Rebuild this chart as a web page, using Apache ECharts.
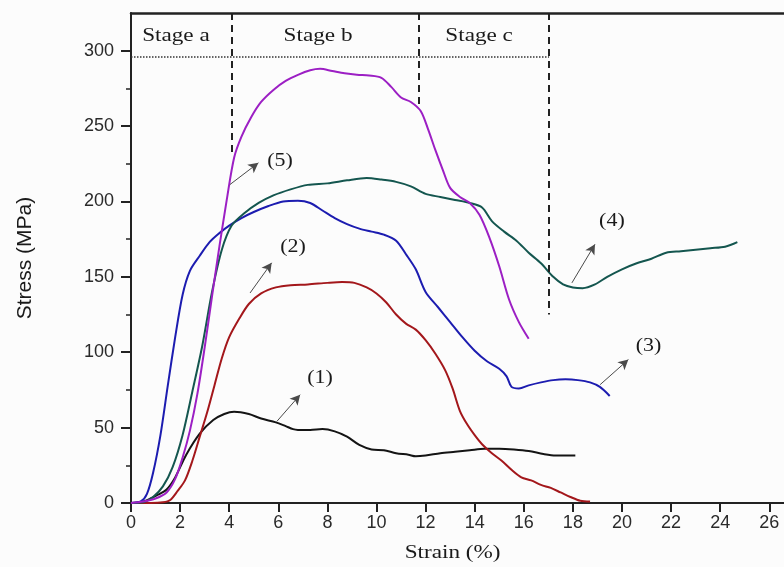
<!DOCTYPE html>
<html>
<head>
<meta charset="utf-8">
<script src="https://cdn.jsdelivr.net/npm/echarts@6/dist/echarts.min.js"></script>
<style>
  html, body { margin: 0; padding: 0; background: #fcfcfc; }
  #chart { width: 784px; height: 567px; }
</style>
</head>
<body>
<div id="chart"></div>
<script>
// Stress–strain curves of five specimens
const strain1 = [0, 0.5, 0.8, 1.1, 1.45, 1.8, 2.25, 2.8, 3.35, 3.8, 4.2, 4.8, 5.3, 5.9, 6.3, 6.6, 6.8, 7.3, 7.8, 8.3, 8.8, 9.3, 9.8, 10.3, 10.8, 11.3, 11.6, 12.0, 12.6, 13.2, 13.8, 14.4, 15.0, 15.6, 16.2, 16.8, 17.3, 17.8, 18.1];
const stress1 = [0, 1, 3, 5.5, 9, 17, 32, 46, 55, 59, 60.5, 59, 56, 53.5, 51, 49, 48.5, 48.5, 49, 47.5, 44, 38.5, 35.5, 35, 33, 32, 31, 31.5, 33, 34, 35, 36, 36, 35.5, 34.5, 32.5, 31.5, 31.5, 31.5];

const strain2 = [0, 0.8, 1.3, 1.6, 1.9, 2.2, 2.5, 2.8, 3.1, 3.4, 3.7, 4.0, 4.4, 4.8, 5.3, 5.9, 6.5, 7.2, 8.0, 8.6, 9.1, 9.6, 10.0, 10.4, 10.8, 11.2, 11.6, 12.0, 12.4, 12.8, 13.1, 13.4, 13.7, 14.0, 14.3, 14.7, 15.1, 15.5, 15.9, 16.3, 16.7, 17.1, 17.5, 17.9, 18.3, 18.7];
const stress2 = [0, 0, 0.5, 2, 8, 15, 28, 44, 60, 78, 96, 110, 122, 132, 139, 143, 144.5, 145, 146, 146.5, 146, 143, 139, 133, 125, 119, 115, 108, 99, 88, 76, 61, 52, 45, 39, 33, 28, 22, 17, 15, 12, 10, 7, 4, 1.5, 1];

const strain3 = [0, 0.4, 0.65, 0.9, 1.2, 1.5, 1.8, 2.1, 2.4, 2.8, 3.2, 3.6, 4.0, 4.5, 5.0, 5.6, 6.2, 6.8, 7.3, 7.8, 8.3, 8.8, 9.3, 9.8, 10.3, 10.8, 11.2, 11.6, 12.0, 12.5, 13.0, 13.5, 14.0, 14.5, 15.0, 15.3, 15.5, 15.8, 16.2, 16.7, 17.2, 17.7, 18.2, 18.7, 19.1, 19.5];
const stress3 = [0, 1, 6, 20, 45, 78, 110, 138, 154, 164, 173, 179, 184, 189, 193, 197, 200, 200.5, 199, 194, 189, 185, 182, 180, 178, 174, 165, 155, 140, 130, 120, 110, 101, 94, 89, 84, 77, 76, 78, 80, 81.5, 82, 81.5, 80, 77, 71];

const strain4 = [0, 0.5, 0.9, 1.3, 1.7, 2.1, 2.5, 2.9, 3.3, 3.7, 4.1, 4.6, 5.2, 5.8, 6.5, 7.2, 8.0, 8.8, 9.6, 10.2, 10.8, 11.4, 12.0, 12.6, 13.2, 13.8, 14.3, 14.7, 15.2, 15.7, 16.2, 16.7, 17.2, 17.6, 18.0, 18.4, 18.9, 19.4, 20.0, 20.6, 21.2, 21.8, 22.4, 23.0, 23.6, 24.2, 24.7];
const stress4 = [0, 0.5, 4, 11, 24, 45, 74, 104, 140, 168, 184, 192, 199, 204, 208, 211, 212, 214, 215.5, 214.5, 213, 210, 205, 203, 201, 199, 196, 187, 180, 174, 166, 159, 150, 145, 143, 142.5, 145, 150, 155, 159, 162, 166, 167, 168, 169, 170, 173];

const strain5 = [0, 0.5, 1.0, 1.45, 1.8, 2.1, 2.4, 2.7, 3.0, 3.3, 3.6, 3.9, 4.2, 4.5, 4.9, 5.3, 5.8, 6.3, 6.8, 7.3, 7.7, 8.2, 8.7, 9.2, 9.7, 10.2, 10.6, 11.0, 11.4, 11.8, 12.1, 12.4, 12.7, 13.0, 13.4, 13.8, 14.2, 14.6, 15.0, 15.4, 15.8, 16.2];
const stress5 = [0, 1, 3, 7, 16, 30, 48, 72, 103, 137, 170, 201, 229, 243, 256, 266, 274, 280, 284, 287, 288, 286.5, 285, 284, 283.5, 282, 276, 269, 266, 260, 248, 234, 221, 209, 203, 199, 191, 176, 157, 135, 120, 109];

// Axis ticks
const xTicks = [0, 2, 4, 6, 8, 10, 12, 14, 16, 18, 20, 22, 24, 26];
const yTicks = [0, 50, 100, 150, 200, 250, 300];
const yMinorTicks = [25, 75, 125, 175, 225, 275];

// Stage boundaries (strain, lower stress end) and the stage ceiling
const stageBounds = [4.12, 11.74, 17.03];
const stageBoundEnds = [229.7, 263, 125];
const stageCeiling = 296;
const stageNames = ['Stage a', 'Stage b', 'Stage c'];
const stageLabelX = [1.83, 7.62, 14.18];
const stageLabelY = 309.5;

// Curve tags "(n)" with leader arrows [start, end]
const tagNames = ['(1)', '(2)', '(3)', '(4)', '(5)'];
const tagAt = [[7.7, 83], [6.6, 169.4], [21.08, 104], [19.59, 187], [6.07, 226.5]];
const arrowFrom = [[5.94, 54.1], [4.85, 139.3], [19.11, 78.5], [17.96, 146], [4.03, 211.2]];
const arrowTo = [[6.89, 71.8], [5.73, 159.3], [20.26, 95.1], [18.9, 171.6], [5.19, 225.6]];

const colors = ['#141414', '#a3171b', '#1c1cb0', '#14564f', '#9c1fc4'];
const strains = [strain1, strain2, strain3, strain4, strain5];
const stresses = [stress1, stress2, stress3, stress4, stress5];

const serif = '"Liberation Serif", serif';
const sans = '"Liberation Sans", sans-serif';
const ink = '#1a1a1a';

const curveSeries = strains.map((s, i) => ({
  type: 'line',
  name: tagNames[i],
  data: s.map((x, k) => [x, stresses[i][k]]),
  showSymbol: false,
  smooth: 0.3,
  lineStyle: { color: colors[i], width: 2 },
  z: 3,
  silent: true
}));

const guideSeries = {
  type: 'line',
  data: [],
  silent: true,
  markLine: {
    silent: true,
    symbol: ['none', 'none'],
    label: { show: false },
    animation: false,
    data: [
      ...stageBounds.map((x, i) => [
        { coord: [x, 325], lineStyle: { type: [7, 5], width: 2, color: '#222' } },
        { coord: [x, stageBoundEnds[i]] }
      ]),
      [
        { coord: [0, stageCeiling], lineStyle: { type: [1.5, 1.5], width: 1.5, color: '#333' } },
        { coord: [stageBounds[2], stageCeiling] }
      ]
    ]
  }
};

const arrowSeries = {
  type: 'line',
  data: [],
  silent: true,
  markLine: {
    silent: true,
    symbol: ['none', 'arrow'],
    symbolSize: [8, 10],
    label: { show: false },
    animation: false,
    lineStyle: { type: 'solid', color: '#4a4a4a', width: 1 },
    data: arrowFrom.map((p, i) => [{ coord: p }, { coord: arrowTo[i] }])
  }
};

const chart = echarts.init(document.getElementById('chart'), null, { renderer: 'canvas' });
chart.setOption({
  backgroundColor: '#fcfcfc',
  animation: false,
  grid: { left: 131, right: 0, top: 13, bottom: 64, containLabel: false },
  xAxis: [
    {
      type: 'value', min: 0, max: 26.6, position: 'bottom',
      axisLine: { onZero: false, lineStyle: { color: '#222', width: 2 } },
      axisTick: { customValues: xTicks, length: 9, lineStyle: { color: '#222', width: 2 } },
      axisLabel: { customValues: xTicks, fontFamily: sans, fontSize: 18, color: '#2a2a2a', margin: 11 },
      splitLine: { show: false }
    },
    {
      type: 'value', min: 0, max: 26.6, position: 'top',
      axisLine: { show: true, onZero: false, lineStyle: { color: '#222', width: 2.5 } },
      axisTick: { show: false }, axisLabel: { show: false }, splitLine: { show: false }
    }
  ],
  yAxis: [
    {
      type: 'value', min: 0, max: 325, position: 'left',
      name: 'Stress (MPa)', nameLocation: 'middle', nameGap: 95, nameRotate: 90,
      nameTextStyle: { fontFamily: sans, fontSize: 21, color: ink },
      axisLine: { show: true, onZero: false, lineStyle: { color: '#222', width: 2 } },
      axisTick: { customValues: yTicks, length: 10, lineStyle: { color: '#222', width: 2 } },
      axisLabel: { customValues: yTicks, fontFamily: sans, fontSize: 18, color: '#2a2a2a', margin: 17 },
      splitLine: { show: false }
    },
    {
      type: 'value', min: 0, max: 325, position: 'left',
      axisLine: { show: false },
      axisTick: { customValues: yMinorTicks, length: 5, lineStyle: { color: '#222', width: 1.5 } },
      axisLabel: { show: false }, splitLine: { show: false }
    }
  ],
  series: [guideSeries, arrowSeries, ...curveSeries]
});

// Serif captions placed through the axes' own scales (slightly widened type)
const toPx = p => chart.convertToPixel({ xAxisIndex: 0, yAxisIndex: 0 }, p);
const caption = (text, p, size) => ({
  type: 'text',
  x: p[0], y: p[1],
  scaleX: 1.22,
  silent: true,
  z: 10,
  style: {
    text: text,
    font: size + 'px ' + serif,
    fill: ink,
    align: 'center',
    verticalAlign: 'middle'
  }
});
const graphics = [
  ...stageNames.map((t, i) => caption(t, toPx([stageLabelX[i], stageLabelY]), 19)),
  ...tagNames.map((t, i) => caption(t, toPx(tagAt[i]), 18)),
  caption('Strain (%)', [toPx([13.1, 0])[0], 553], 19)
];
chart.setOption({ graphic: graphics });
</script>
</body>
</html>
